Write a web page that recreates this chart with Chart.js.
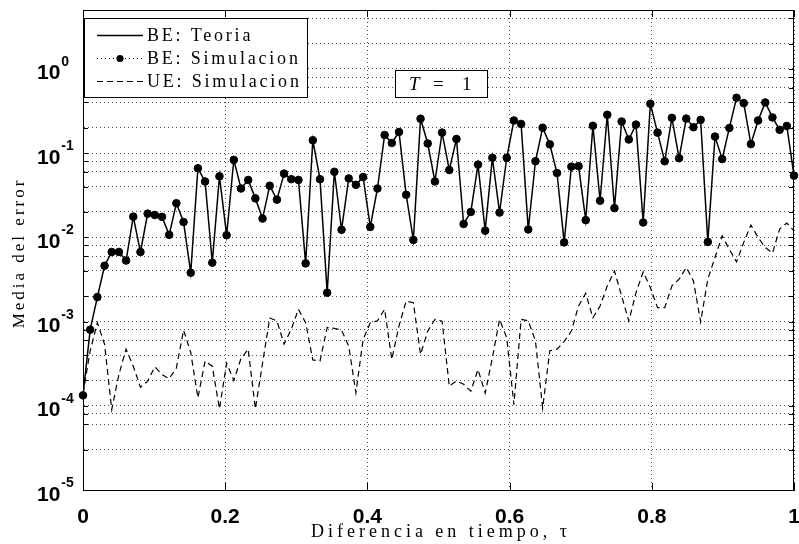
<!DOCTYPE html>
<html>
<head>
<meta charset="utf-8">
<style>
  html, body { margin: 0; padding: 0; background: #fff; }
  #wrap { width: 799px; height: 544px; }
</style>
<script src="https://cdn.jsdelivr.net/npm/chart.js@4.4.1/dist/chart.umd.min.js"></script>
</head>
<body>
<div id="wrap"><canvas id="errChart" width="799" height="544"></canvas></div>
<script>
// sampling grid: 100 samples of tau between 0 and 1
const N = 100;
const tau = Array.from({ length: N }, (_, i) => i / (N - 1));

// BE: teoria and simulacion share the same values
const beError = [
  1.33e-4, 8.0e-4, 1.95e-3, 4.6e-3, 6.7e-3, 6.7e-3, 5.3e-3, 1.76e-2, 6.7e-3, 1.91e-2,
  1.84e-2, 1.75e-2, 1.07e-2, 2.54e-2, 1.52e-2, 3.8e-3, 6.6e-2, 4.6e-2, 5.0e-3, 5.3e-2,
  1.06e-2, 8.3e-2, 3.8e-2, 4.8e-2, 2.9e-2, 1.67e-2, 4.1e-2, 2.8e-2, 5.7e-2, 4.9e-2,
  4.8e-2, 4.9e-3, 0.142, 4.9e-2, 2.2e-3, 6.0e-2, 1.23e-2, 5.0e-2, 4.2e-2, 5.2e-2,
  1.33e-2, 3.8e-2, 0.164, 0.132, 0.178, 3.2e-2, 9.3e-3, 0.256, 0.13, 4.6e-2,
  0.175, 6.3e-2, 0.147, 1.44e-2, 2.0e-2, 7.3e-2, 1.2e-2, 8.8e-2, 1.97e-2, 8.8e-2,
  0.244, 0.222, 1.24e-2, 8.0e-2, 0.2, 0.127, 5.8e-2, 8.7e-3, 6.9e-2, 7.0e-2,
  1.6e-2, 0.211, 2.72e-2, 0.285, 2.22e-2, 0.237, 0.145, 0.218, 1.5e-2, 0.385,
  0.175, 8.0e-2, 0.262, 8.7e-2, 0.257, 0.203, 0.248, 8.8e-3, 0.157, 8.5e-2,
  0.199, 0.454, 0.392, 0.128, 0.244, 0.399, 0.265, 0.189, 0.21, 5.4e-2
];

const ueError = [
  1.4e-4, 4.5e-4, 9.7e-4, 5.4e-4, 9.0e-5, 2.35e-4, 4.7e-4, 2.95e-4, 1.66e-4, 1.96e-4,
  2.9e-4, 2.35e-4, 2.1e-4, 2.8e-4, 7.9e-4, 4.3e-4, 1.24e-4, 3.4e-4, 2.95e-4, 9.2e-5,
  3.2e-4, 2.0e-4, 3.65e-4, 4.7e-4, 9.2e-5, 3.2e-4, 1.1e-3, 1.02e-3, 5.4e-4, 8.1e-4,
  1.4e-3, 9.7e-4, 3.5e-4, 3.4e-4, 8.5e-4, 8.3e-4, 7.9e-4, 5.1e-4, 1.43e-4, 6.1e-4,
  9.7e-4, 1.02e-3, 1.4e-3, 3.55e-4, 8.9e-4, 1.75e-3, 1.67e-3, 4.07e-4, 7.7e-4, 1.06e-3,
  1.01e-3, 1.71e-4, 1.97e-4, 1.8e-4, 1.49e-4, 2.7e-4, 1.42e-4, 3.7e-4, 1.06e-3, 6.4e-4,
  1.03e-4, 1.06e-3, 1.02e-3, 5.9e-4, 9.4e-5, 4.5e-4, 4.7e-4, 5.8e-4, 7.7e-4, 1.53e-3,
  2.16e-3, 1.11e-3, 1.53e-3, 2.65e-3, 3.99e-3, 2.01e-3, 1.01e-3, 2.2e-3, 3.88e-3, 2.53e-3,
  1.46e-3, 1.46e-3, 2.65e-3, 3.18e-3, 4.38e-3, 3.03e-3, 9.9e-4, 3.18e-3, 5.76e-3, 1.04e-2,
  7.2e-3, 5.1e-3, 8.7e-3, 1.4e-2, 9.96e-3, 7.6e-3, 6.5e-3, 1.25e-2, 1.48e-2, 1.19e-2
];

const xTicks = [0, 0.2, 0.4, 0.6, 0.8, 1];
const yDecades = [-5, -4, -3, -2, -1, 0];
const seriesNames = ['BE: Teoria', 'BE: Simulacion', 'UE: Simulacion'];
const xTitle = 'Diferencia en tiempo, \u03C4';
const yTitle = 'Media del error';

const SERIF = '"Liberation Serif", "Times New Roman", serif';
const SANS = '"Liberation Sans", Arial, sans-serif';

const toPoints = vals => vals.map((v, i) => ({ x: tau[i], y: v }));

// axis labels, inner ticks, box, legend and the T = 1 note
const decoration = {
  id: 'decoration',
  afterDraw(chart) {
    const { ctx, chartArea: a, scales: { x, y } } = chart;
    ctx.save();
    ctx.strokeStyle = '#000';
    ctx.lineWidth = 1;

    // box
    ctx.beginPath();
    ctx.moveTo(a.left + 0.5, a.top + 0.5);
    ctx.lineTo(a.right - 0.5, a.top + 0.5);
    ctx.lineTo(a.right - 0.5, a.bottom + 0.5);
    ctx.stroke();

    // inner tick marks
    ctx.beginPath();
    y.ticks.forEach(t => {
      const py = Math.round(y.getPixelForValue(t.value)) + 0.5;
      ctx.moveTo(a.left, py); ctx.lineTo(a.left + 5, py);
      ctx.moveTo(a.right, py); ctx.lineTo(a.right - 5, py);
    });
    xTicks.forEach(v => {
      const px = Math.round(x.getPixelForValue(v)) + 0.5;
      ctx.moveTo(px, a.bottom); ctx.lineTo(px, a.bottom - 7);
      ctx.moveTo(px, a.top); ctx.lineTo(px, a.top + 7);
    });
    ctx.stroke();

    // y tick labels 10^n
    ctx.fillStyle = '#000';
    ctx.textAlign = 'left';
    ctx.textBaseline = 'alphabetic';
    yDecades.forEach(d => {
      const py = y.getPixelForValue(Math.pow(10, d));
      ctx.font = 'bold 21px ' + SANS;
      ctx.fillText('10', 37, py + 10.5);
      const w = ctx.measureText('10').width;
      ctx.font = 'bold 14px ' + SANS;
      ctx.fillText(String(d), 37 + w + 1, py - 3);
    });

    // axis titles
    ctx.textAlign = 'center';
    ctx.textBaseline = 'middle';
    ctx.font = '18px ' + SERIF;
    ctx.letterSpacing = '4px';
    ctx.fillText(xTitle, 441, 532);
    ctx.font = '17px ' + SERIF;
    ctx.letterSpacing = '3px';
    ctx.save();
    ctx.translate(20, 253);
    ctx.rotate(-Math.PI / 2);
    ctx.fillText(yTitle, 0, 0);
    ctx.restore();

    // legend
    const lx = a.left + 1, ly = 18, lw = 223, lh = 79;
    ctx.fillStyle = '#fff';
    ctx.fillRect(lx, ly, lw, lh);
    ctx.strokeStyle = '#000';
    ctx.strokeRect(lx + 0.5, ly + 0.5, lw, lh);
    ctx.font = '18px ' + SERIF;
    ctx.letterSpacing = '2.8px';
    const rows = [35, 58, 81];
    const styles = [[], [1, 3], [6, 4]];
    rows.forEach((ry, k) => {
      ctx.setLineDash(styles[k]);
      ctx.lineWidth = k === 0 ? 1.5 : 1.2;
      ctx.beginPath();
      ctx.moveTo(97, ry + 0.5); ctx.lineTo(143, ry + 0.5);
      ctx.stroke();
      ctx.setLineDash([]);
      if (k === 1) {
        ctx.fillStyle = '#000';
        ctx.beginPath(); ctx.arc(120, ry + 0.5, 3.6, 0, Math.PI * 2); ctx.fill();
      }
      ctx.fillStyle = '#000';
      ctx.textAlign = 'left';
      ctx.fillText(seriesNames[k], 147, ry + 1);
    });

    // T = 1 note
    ctx.lineWidth = 1;
    ctx.fillStyle = '#fff';
    ctx.fillRect(395, 70, 92, 27);
    ctx.strokeRect(395.5, 70.5, 92, 27);
    ctx.fillStyle = '#000';
    ctx.letterSpacing = '0px';
    ctx.font = 'italic 19px ' + SERIF;
    ctx.fillText('T', 409, 85);
    ctx.font = '19px ' + SERIF;
    ctx.fillText('=', 433, 85);
    ctx.fillText('1', 462, 85);
    ctx.restore();
  }
};

const ctx = document.getElementById('errChart').getContext('2d');

new Chart(ctx, {
  type: 'line',
  data: {
    datasets: [
      {
        label: seriesNames[2],
        data: toPoints(ueError),
        borderColor: '#000',
        borderWidth: 1.2,
        borderDash: [6, 4],
        pointRadius: 0,
        tension: 0
      },
      {
        label: seriesNames[0],
        data: toPoints(beError),
        borderColor: '#000',
        borderWidth: 1.5,
        pointRadius: 0,
        tension: 0
      },
      {
        label: seriesNames[1],
        data: toPoints(beError),
        showLine: false,
        pointRadius: 3.8,
        pointBackgroundColor: '#000',
        pointBorderColor: '#000',
        clip: false
      }
    ]
  },
  options: {
    responsive: false,
    animation: false,
    devicePixelRatio: 1,
    layout: { padding: { top: 10, right: 2, left: 0, bottom: 0 } },
    plugins: { legend: { display: false }, tooltip: { enabled: false } },
    scales: {
      x: {
        type: 'linear',
        min: 0,
        max: 1,
        afterBuildTicks: s => { s.ticks = xTicks.map(v => ({ value: v })); },
        afterFit: s => { s.height = 54; s.paddingLeft = 0; s.paddingRight = 0; },
        grid: { color: 'rgba(0,0,0,0.7)', lineWidth: 1, drawTicks: false },
        border: { display: true, color: '#000', width: 1, dash: [1, 3] },
        ticks: {
          color: '#000',
          padding: 15,
          maxRotation: 0,
          font: { family: SANS, size: 21, weight: 'bold' },
          callback: v => String(v)
        }
      },
      y: {
        type: 'logarithmic',
        min: 1e-5,
        max: 5,
        afterFit: s => { s.width = 83; s.paddingTop = 0; s.paddingBottom = 0; },
        grid: { color: 'rgba(0,0,0,0.7)', lineWidth: 1, drawTicks: false },
        border: { display: true, color: '#000', width: 1, dash: [1, 3] },
        ticks: { callback: () => '' }
      }
    }
  },
  plugins: [decoration]
});
</script>
</body>
</html>
